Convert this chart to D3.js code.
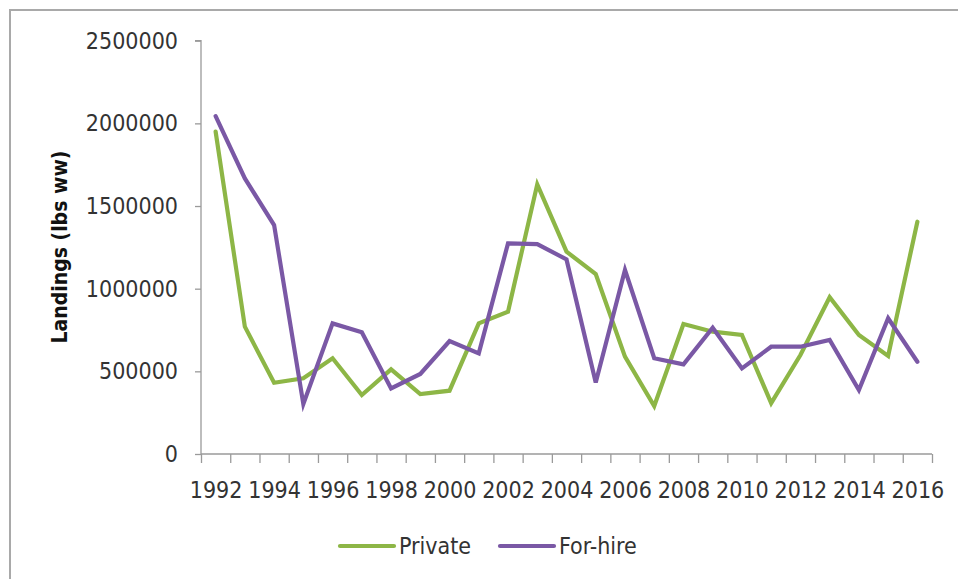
<!DOCTYPE html>
<html><head><meta charset="utf-8">
<script src="https://cdn.jsdelivr.net/npm/d3@7"></script>
<style>
html,body{margin:0;padding:0;background:#fff;}
svg{display:block;}
text{font-family:"DejaVu Sans Condensed","DejaVu Sans",sans-serif;font-stretch:condensed;}
</style></head>
<body>
<script>
const years = [1992,1993,1994,1995,1996,1997,1998,1999,2000,2001,2002,2003,2004,2005,2006,2007,2008,2009,2010,2011,2012,2013,2014,2015,2016];
const privateVals = [1950000,770000,431000,458000,579000,357000,512000,363000,383000,790000,861000,1631000,1224000,1089000,589000,290000,786000,740000,720000,308000,599000,948000,720000,593000,1405000];
const forHireVals = [2044000,1667000,1385000,302000,790000,736000,397000,484000,683000,609000,1274000,1270000,1177000,433000,1113000,579000,542000,764000,518000,649000,649000,690000,387000,821000,558000];
const yTicks = [0,500000,1000000,1500000,2000000,2500000];
const xLabelYears = [1992,1994,1996,1998,2000,2002,2004,2006,2008,2010,2012,2014,2016];
const seriesNames = ["Private","For-hire"];
const seriesColors = ["#8db646","#7a58a5"];

const W = 958, H = 579;
const svg = d3.select("body").append("svg").attr("width", W).attr("height", H);

// outer border
svg.append("path").attr("d", `M10,${H+5} L10,10 L${W+5},10`)
  .attr("fill","none").attr("stroke","#a9a9a9").attr("stroke-width",2);

const x = d3.scaleLinear().domain([years[0]-0.5, years[years.length-1]+0.5]).range([201, 932]);
const y = d3.scaleLinear().domain([0, 2500000]).range([454, 40.7]);

const axisColor = "#9a9a9a";
const textColor = "#333";

// y axis
const gy = svg.append("g").attr("transform","translate(201,0)")
  .call(d3.axisLeft(y).tickValues(yTicks).tickSize(6).tickPadding(17).tickFormat(d3.format("d")));
gy.select(".domain").attr("stroke", axisColor).attr("stroke-width",1.3).attr("d", `M-6,${y(2500000)}H0V${y(0)}`);
gy.selectAll(".tick line").attr("stroke", axisColor).attr("stroke-width",1.3);
gy.selectAll(".tick text").attr("fill", textColor).style("font-size","23px").style("font-family",null);

// x axis ticks at boundaries
const bounds = d3.range(years.length+1).map(i => years[0]-0.5+i);
const gx = svg.append("g").attr("transform","translate(0,454)")
  .call(d3.axisBottom(x).tickValues(bounds).tickSize(9).tickFormat(""));
gx.select(".domain").attr("stroke", axisColor).attr("stroke-width",1.3).attr("d", `M201,0H932`);
gx.selectAll(".tick line").attr("stroke", axisColor).attr("stroke-width",1.3);

// x labels
const gxl = svg.append("g").attr("transform","translate(0,454)")
  .call(d3.axisBottom(x).tickValues(xLabelYears).tickSize(0).tickPadding(28).tickFormat(d3.format("d")));
gxl.select(".domain").remove();
gxl.selectAll(".tick text").attr("fill", textColor).style("font-size","23px").style("font-family",null);

// y title
svg.append("text").attr("transform","translate(60,247) rotate(-90)")
  .attr("text-anchor","middle").attr("dominant-baseline","central")
  .attr("fill","#111").style("font-size","21px").style("font-weight","bold")
  .text("Landings (lbs ww)");

// lines
const line = d3.line().x((d,i)=>x(years[i])).y(d=>y(d));
[privateVals, forHireVals].forEach((vals, k) => {
  svg.append("path").datum(vals).attr("d", line)
    .attr("fill","none").attr("stroke", seriesColors[k]).attr("stroke-width",4.2)
    .attr("stroke-linejoin","miter").attr("stroke-linecap","round");
});

// legend
const legendX = [340, 500];
seriesNames.forEach((name,k) => {
  const g = svg.append("g").attr("transform",`translate(${legendX[k]},546)`);
  g.append("line").attr("x1",0).attr("x2",54).attr("y1",0).attr("y2",0)
    .attr("stroke", seriesColors[k]).attr("stroke-width",4.2).attr("stroke-linecap","round");
  g.append("text").attr("x",59).attr("y",0).attr("dominant-baseline","central")
    .attr("fill", textColor).style("font-size","23px").text(name);
});
</script>
</body></html>
